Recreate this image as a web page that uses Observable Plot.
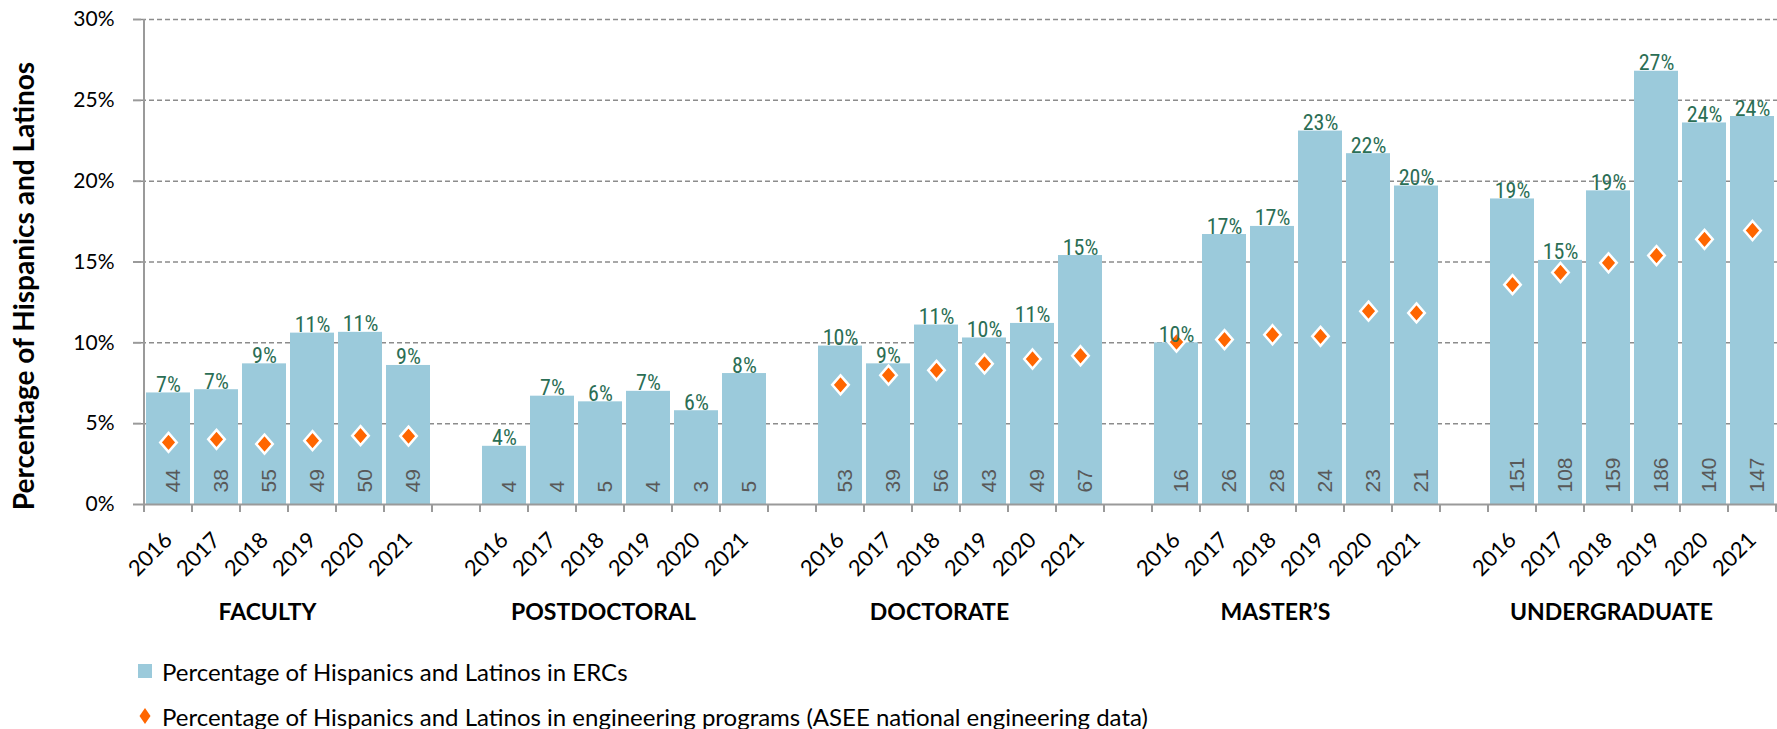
<!DOCTYPE html>
<html>
<head>
<meta charset="utf-8">
<script src="https://cdn.jsdelivr.net/npm/d3@7"></script>
<script src="https://cdn.jsdelivr.net/npm/@observablehq/plot@0.6"></script>
<style>
  html, body { margin: 0; padding: 0; background: #fff; overflow: hidden; width: 1777px; height: 729px; }
  #chart { position: absolute; left: 0; top: 0; }
  .legend { position: absolute; left: 138px; height: 30px; display: flex; align-items: center;
            font-family: Lato, "Open Sans", sans-serif; font-size: 24px; color: #000; white-space: nowrap; }
  .legend svg { margin-right: 10px; }
</style>
</head>
<body>
<div id="chart"></div>
<div class="legend" style="top:656px;">
  <svg width="14" height="14"><rect x="0" y="0" width="14" height="14" fill="#9bcadb"></rect></svg>
  <span id="lg1"></span>
</div>
<div class="legend" style="top:701px;">
  <svg width="14" height="18"><polygon points="7,1 12.5,9 7,17 1.5,9" fill="#ff6600"></polygon></svg>
  <span id="lg2"></span>
</div>
<script>
// ---------- data ----------
const groups = ["FACULTY", "POSTDOCTORAL", "DOCTORATE", "MASTER’S", "UNDERGRADUATE"];
const years = ["2016", "2017", "2018", "2019", "2020", "2021"];

// Percentage of Hispanics and Latinos in ERCs (%)
const facultyERC   = [6.9, 7.1, 8.7, 10.6, 10.65, 8.6];
const postdocERC   = [3.6, 6.7, 6.35, 7.0, 5.8, 8.1];
const doctorateERC = [9.8, 8.7, 11.1, 10.3, 11.2, 15.4];
const mastersERC   = [10.0, 16.7, 17.2, 23.1, 21.7, 19.7];
const undergradERC = [18.9, 15.1, 19.4, 26.8, 23.6, 24.0];

// Percentage in engineering programs, ASEE national data (%)
const facultyASEE   = [3.84, 4.03, 3.74, 3.95, 4.26, 4.23];
const postdocASEE   = [null, null, null, null, null, null];
const doctorateASEE = [7.4, 8.0, 8.3, 8.7, 9.0, 9.2];
const mastersASEE   = [10.05, 10.2, 10.5, 10.4, 11.96, 11.85];
const undergradASEE = [13.6, 14.35, 14.95, 15.4, 16.4, 16.95];

// Counts of Hispanic and Latino participants in ERCs
const facultyN   = [44, 38, 55, 49, 50, 49];
const postdocN   = [4, 4, 5, 4, 3, 5];
const doctorateN = [53, 39, 56, 43, 49, 67];
const mastersN   = [16, 26, 28, 24, 23, 21];
const undergradN = [151, 108, 159, 186, 140, 147];

const yTicks = [0, 0.05, 0.10, 0.15, 0.20, 0.25, 0.30];
const yTitle = "Percentage of Hispanics and Latinos";
const legendERC = "Percentage of Hispanics and Latinos in ERCs";
const legendASEE = "Percentage of Hispanics and Latinos in engineering programs (ASEE national engineering data)";

document.getElementById("lg1").textContent = legendERC;
document.getElementById("lg2").textContent = legendASEE;

// ---------- build table ----------
const ercSeries = [facultyERC, postdocERC, doctorateERC, mastersERC, undergradERC];
const aseeSeries = [facultyASEE, postdocASEE, doctorateASEE, mastersASEE, undergradASEE];
const countSeries = [facultyN, postdocN, doctorateN, mastersN, undergradN];

const rows = [];
const domain = [];
groups.forEach((g, gi) => {
  years.forEach((yr, yi) => {
    const key = g + " " + yr;
    domain.push(key);
    rows.push({
      key, group: g, year: yr,
      erc: ercSeries[gi][yi] / 100,
      asee: aseeSeries[gi][yi] == null ? null : aseeSeries[gi][yi] / 100,
      n: countSeries[gi][yi]
    });
  });
  if (gi < groups.length - 1) domain.push("gap " + gi);
});
const groupRows = groups.map(g => ({group: g, key: g + " 2018"}));
const aseeRows = rows.filter(d => d.asee != null);

// diamond symbol
const diamond = {
  draw(context, size) {
    const h = Math.sqrt(size / Math.PI), w = 0.87 * h;
    context.moveTo(0, -h); context.lineTo(w, 0); context.lineTo(0, h); context.lineTo(-w, 0); context.closePath();
  }
};

const W = 1777, H = 729;
const sansNarrow = "'Liberation Sans Narrow', 'Arial Narrow', 'Roboto Condensed', sans-serif";

// axis line + category boundary ticks, positioned through the scales
function axisFrame(index, scales) {
  const x = scales.x, y = scales.y;
  const bw = typeof x.bandwidth === "function" ? x.bandwidth() : x.bandwidth;
  const g = d3.create("svg:g").attr("stroke", "#9a9a9a").attr("stroke-width", 2);
  g.append("line").attr("x1", x(domain[0])).attr("x2", x(domain[0]))
    .attr("y1", y(0)).attr("y2", y(0.30));
  const bounds = domain.map(k => x(k)).concat([x(domain[domain.length - 1]) + bw]);
  for (const bx of bounds) {
    g.append("line").attr("x1", bx).attr("x2", bx).attr("y1", y(0)).attr("y2", y(0) + 8);
  }
  return g.node();
}

const chart = Plot.plot({
  width: W, height: H,
  marginLeft: 141, marginRight: 0, marginTop: 19, marginBottom: H - 504,
  style: {fontFamily: "Lato, 'Open Sans', sans-serif", fontSize: "20px", background: "white", overflow: "visible"},
  x: {type: "band", domain, range: [141, 1779], padding: 0, axis: null},
  y: {domain: [0, 0.30], axis: null},
  marks: [
    Plot.ruleY(yTicks.filter(t => t > 0), {stroke: "#8c8c8c", strokeOpacity: 1, strokeWidth: 1.5, strokeDasharray: "5,3"}),
    Plot.barY(rows, {x: "key", y: "erc", fill: "#9bcadb", insetLeft: 2, insetRight: 2}),
    Plot.ruleY([0], {stroke: "#9a9a9a", strokeWidth: 2}),
    axisFrame,
    Plot.axisY({ticks: yTicks, tickFormat: d3.format(".0%"), tickSize: 8, tickPadding: 19,
      stroke: "#9a9a9a", strokeWidth: 2, fill: "#000", fontSize: 21, label: null}),
    Plot.dot(aseeRows, {x: "key", y: "asee", symbol: diamond, r: 9.5, fill: "#ff6600", stroke: "white", strokeWidth: 2.5}),
    Plot.text(rows, {x: "key", y: "erc", text: d => Math.round(d.erc * 100) + "%", lineAnchor: "bottom", dy: -1,
      fill: "#2b6e55", fontFamily: sansNarrow, fontSize: 22}),
    Plot.text(rows, {x: "key", y: () => 0, text: d => String(d.n), rotate: -90, textAnchor: "start", lineAnchor: "middle",
      dx: 5, dy: -12, fill: "#595959", fontFamily: "'Liberation Sans', Arial, sans-serif", fontSize: 21}),
    Plot.text(rows, {x: "key", y: () => 0, text: "year", rotate: -45, textAnchor: "end", lineAnchor: "middle",
      dx: 0, dy: 32, fill: "#000", fontSize: 22}),
    Plot.text(groupRows, {x: "key", y: () => 0, text: "group", dx: 3, dy: 108, fill: "#000", fontWeight: "bold", fontSize: 23}),
    Plot.text([yTitle], {frameAnchor: "left", text: d => d, rotate: -90, textAnchor: "middle", lineAnchor: "middle",
      dx: -116, dy: 24, fill: "#000", fontWeight: "bold", fontSize: 28})
  ]
});
document.getElementById("chart").appendChild(chart);
</script>
</body>
</html>
